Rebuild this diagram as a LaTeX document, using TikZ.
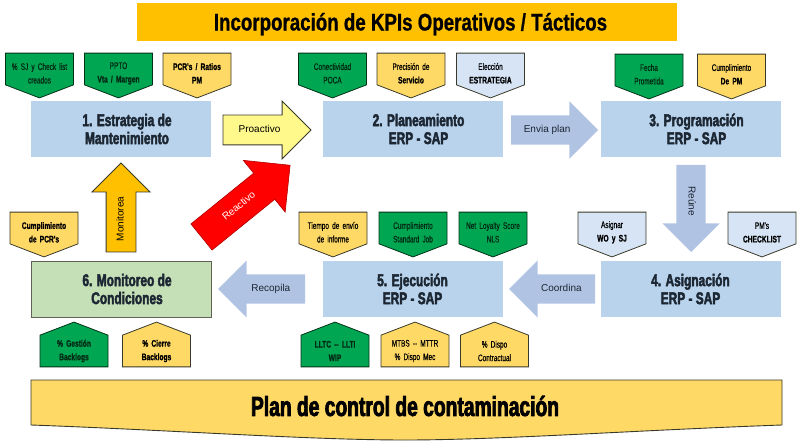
\documentclass[tikz,border=0pt]{standalone}
\usepackage{fontspec}
\usetikzlibrary{shapes,shapes.arrows,shapes.symbols}
\setmainfont{Liberation Sans}
\newfontfamily\heavyfont[FakeStretch=0.70,FakeBold=2.6]{Liberation Sans Bold}
\newfontfamily\titlefont[FakeStretch=0.78,FakeBold=0.8]{Liberation Sans Bold}
\newfontfamily\tagfont[FakeStretch=0.68,FakeBold=0.5]{Liberation Sans}
\newfontfamily\tagboldfont[FakeStretch=0.70,FakeBold=0.9]{Liberation Sans Bold}
\definecolor{kpiorange}{HTML}{FFC000}
\definecolor{kpiyellow}{HTML}{FFD966}
\definecolor{kpigreen}{HTML}{00A651}
\definecolor{kpipale}{HTML}{D6E4F5}
\definecolor{kpibox}{HTML}{B9D3EC}
\definecolor{kpiarrow}{HTML}{B0C3E3}
\definecolor{kpilime}{HTML}{C5DFB6}
\definecolor{kpiink}{HTML}{1C2733}
\definecolor{kpiedge}{HTML}{3A3A2A}
\newcommand{\tb}[1]{{\tagboldfont #1}}
\newcommand{\off}{\hspace*{12pt}}

\begin{document}
\begin{tikzpicture}[x=1pt,y=-1pt]
\tikzstyle{every node}=[inner sep=0pt, outer sep=0pt, align=center]
\tikzstyle{stage}=[rectangle, fill=kpibox, minimum width=180pt, minimum height=56pt, text=kpiink, font=\heavyfont\fontsize{17}{18}\selectfont]
\tikzstyle{tag}=[signal, signal pointer angle=138, draw=kpiedge, line width=0.8pt, minimum width=68pt, minimum height=44pt, text width=64pt, text=black, font=\tagfont\fontsize{9.5}{13.5}\selectfont]
\tikzstyle{tagdown}=[tag, signal to=south, signal from=nowhere, execute at begin node={\rule{0pt}{15.5pt}}]
\tikzstyle{tagup}=[tag, signal to=north, signal from=nowhere]
\tikzstyle{green}=[fill=kpigreen, draw=black!70!kpigreen, text=black!75!kpigreen]
\tikzstyle{amber}=[fill=kpiyellow]
\tikzstyle{pale}=[fill=kpipale]
\tikzstyle{block}=[single arrow, text height=7pt, text depth=2pt, inner ysep=10pt, single arrow head extend=14pt, single arrow head indent=0pt, font=\fontsize{10}{12}\selectfont, anchor=tail]
\tikzstyle{soft}=[block, fill=kpiarrow, text=kpiink]
\tikzstyle{hard}=[block, draw=kpiedge, line width=0.9pt]

\useasboundingbox (0,0) rectangle (800,446);

\node[rectangle, fill=kpiorange, minimum width=540pt, minimum height=38pt, font=\titlefont\fontsize{24}{28}\selectfont] (title) at (407,22) {\rule{0pt}{22pt}\hspace*{7pt}Incorporaci\'on de KPIs Operativos / T\'acticos};

% etapas
\node[stage] (estrategia) at (121,129) {\off 1. Estrategia de\\\off Mantenimiento};
\node[stage] (planeamiento) at (412.5,129) {\off 2. Planeamiento\\\off ERP - SAP};
\node[stage] (programacion) at (690.5,129) {\off 3. Programaci\'on\\\off ERP - SAP};
\node[stage] (asignacion) at (690.5,289) {4. Asignaci\'on\\ERP - SAP};
\node[stage] (ejecucion) at (412.5,289) {5. Ejecuci\'on\\ERP - SAP};
\node[stage, fill=kpilime, draw=kpiedge!80, line width=0.8pt] (monitoreo) at (121,289) {\off 6. Monitoreo de\\\off Condiciones};

% flechas
\node[hard, fill=yellow!45, minimum height=88pt] (proactivo) at (223,130) {Proactivo};
\node[soft, minimum height=87pt] (enviaplan) at (511,130) {Envia plan};
\node[soft, minimum height=87pt, rotate=-90] (reune) at (691,165) {Re\'une};
\node[soft, minimum height=86pt, shape border rotate=180, anchor=tip] (coordina) at (509,289) {\hspace{4pt}Coordina};
\node[soft, minimum height=87pt, shape border rotate=180, anchor=tip] (recopila) at (218,289) {\hspace{4pt}Recopila};
\node[hard, fill=kpiorange, minimum height=89pt, rotate=90] (monitorea) at (121,252) {Monitorea\hspace{8pt}};
\node[block, fill=red, draw=red!70!black, line width=0.6pt, text=white, minimum height=114pt, inner ysep=12pt, single arrow head extend=16.5pt, rotate=39] (reactivo) at (201.5,237) {Reactivo};

% indicadores arriba
\node[tagdown, green] (sj) at (39.5,69) {\% SJ y Check list\\creados};
\node[tagdown, green] (ppto) at (118.5,69) {PPTO\\\tb{Vta / Margen}};
\node[tagdown, amber] (pcr) at (197,69) {\tb{PCR's / Ratios}\\\tb{PM}};
\node[tagdown, green] (poca) at (332.5,69) {Conectividad\\POCA};
\node[tagdown, amber] (precision) at (411,69) {Precisi\'on de\\\tb{Servicio}};
\node[tagdown, pale] (eleccion) at (490.5,69) {Elecci\'on\\\tb{ESTRATEGIA}};
\node[tagdown, green] (fecha) at (649,70) {Fecha\\Prometida};
\node[tagdown, amber] (cumplepm) at (731.5,70) {Cumplimiento\\\tb{De PM}};

% indicadores centro
\node[tagdown, amber] (cumplepcr) at (44,228) {\tb{Cumplimiento}\\\tb{de PCR's}};
\node[tagdown, amber] (tiempo) at (333,228) {Tiempo de env\'io\\de informe};
\node[tagdown, green] (standard) at (413,228) {Cumplimiento\\Standard Job};
\node[tagdown, green] (nls) at (493,228) {Net Loyalty Score\\NLS};
\node[tagdown, pale] (asignar) at (612,228) {Asignar\\\tb{WO y SJ}};
\node[tagdown, pale] (checklist) at (762,228) {PM's\\\tb{CHECKLIST}};

% indicadores abajo
\node[tagup, green] (gestion) at (74,351) {\tb{\% Gesti\'on}\\\tb{Backlogs}};
\node[tagup, amber] (cierre) at (156.5,351) {\tb{\% Cierre}\\\tb{Backlogs}};
\node[tagup, green] (lltc) at (335,351) {\tb{LLTC -- LLTI}\\\tb{WIP}};
\node[tagup, amber] (mtbs) at (415,351) {MTBS -- MTTR\\\% Dispo Mec};
\node[tagup, amber] (dispo) at (494.5,351) {\% Dispo\\Contractual};

% banda inferior
\draw[fill=kpiyellow, draw=kpiedge, line width=0.9pt] (31,380) -- (782,380) -- (782,425) .. controls (640,430) and (500,440) .. (405,440) .. controls (310,440) and (170,430) .. (31,425) -- cycle;
\node[font=\heavyfont\fontsize{27.5}{30}\selectfont, text=black] (plan) at (405,406) {Plan de control de contaminaci\'on};
\end{tikzpicture}
\end{document}
